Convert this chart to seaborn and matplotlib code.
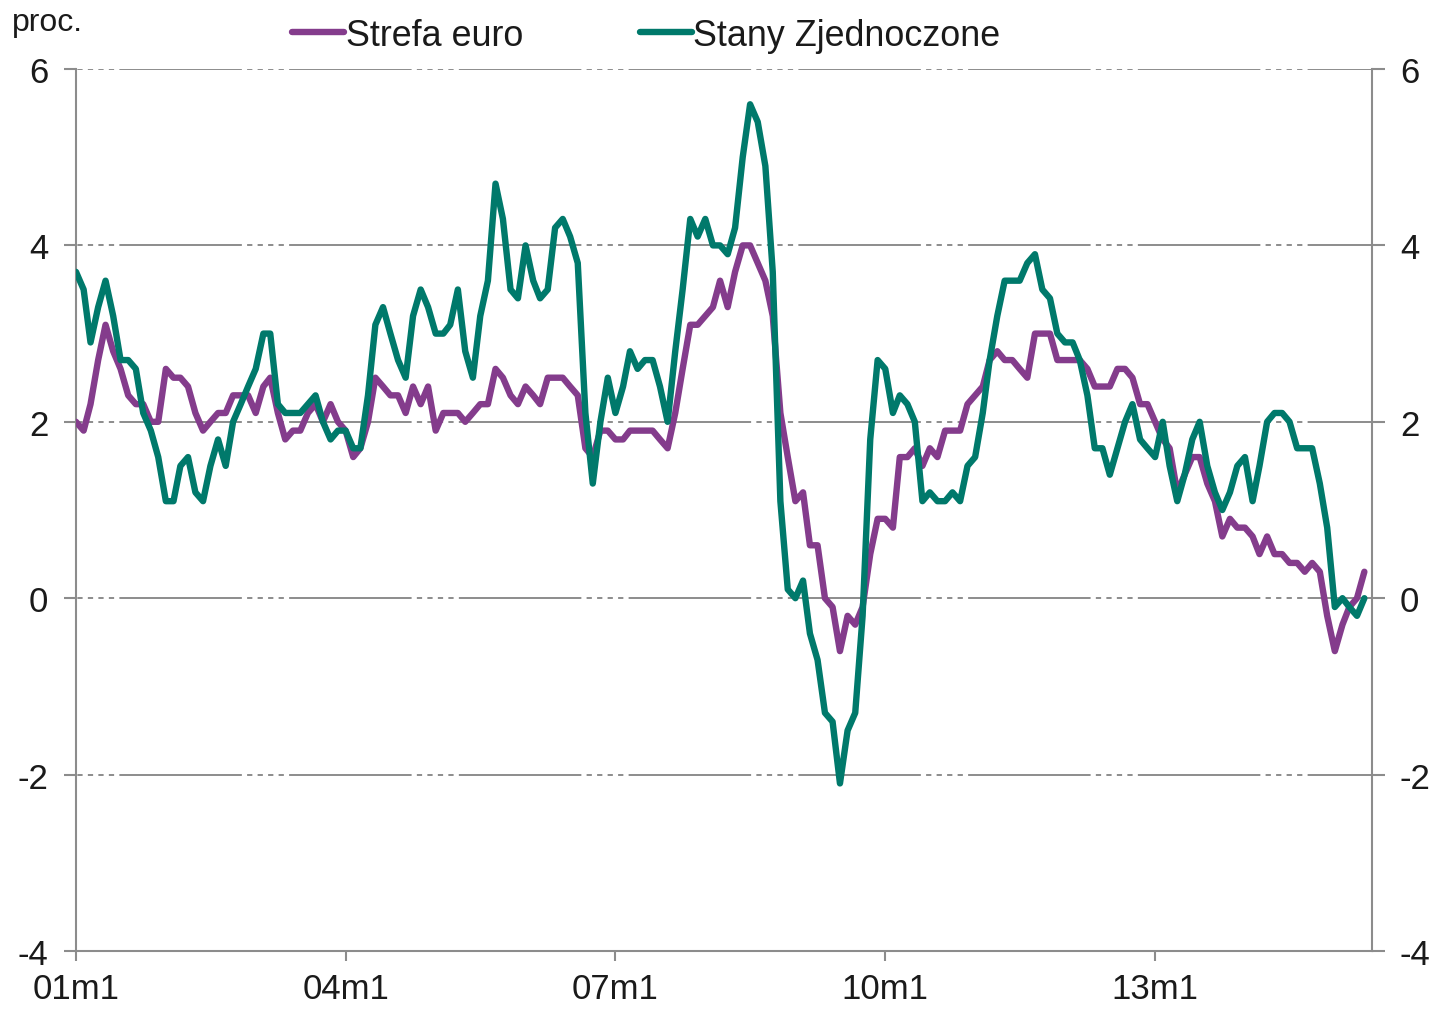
import numpy as np
import pandas as pd
import matplotlib
matplotlib.use('Agg')
import matplotlib.pyplot as plt
import seaborn as sns

# Inflacja r/r, dane miesięczne 2001m1 - 2015m5
strefa_euro = [
    2.0, 1.9, 2.2, 2.7, 3.1, 2.8, 2.6, 2.3, 2.2, 2.2, 2.0, 2.0,
    2.6, 2.5, 2.5, 2.4, 2.1, 1.9, 2.0, 2.1, 2.1, 2.3, 2.3, 2.3,
    2.1, 2.4, 2.5, 2.1, 1.8, 1.9, 1.9, 2.1, 2.2, 2.0, 2.2, 2.0,
    1.9, 1.6, 1.7, 2.0, 2.5, 2.4, 2.3, 2.3, 2.1, 2.4, 2.2, 2.4,
    1.9, 2.1, 2.1, 2.1, 2.0, 2.1, 2.2, 2.2, 2.6, 2.5, 2.3, 2.2,
    2.4, 2.3, 2.2, 2.5, 2.5, 2.5, 2.4, 2.3, 1.7, 1.6, 1.9, 1.9,
    1.8, 1.8, 1.9, 1.9, 1.9, 1.9, 1.8, 1.7, 2.1, 2.6, 3.1, 3.1,
    3.2, 3.3, 3.6, 3.3, 3.7, 4.0, 4.0, 3.8, 3.6, 3.2, 2.1, 1.6,
    1.1, 1.2, 0.6, 0.6, 0.0, -0.1, -0.6, -0.2, -0.3, -0.1, 0.5, 0.9,
    0.9, 0.8, 1.6, 1.6, 1.7, 1.5, 1.7, 1.6, 1.9, 1.9, 1.9, 2.2,
    2.3, 2.4, 2.7, 2.8, 2.7, 2.7, 2.6, 2.5, 3.0, 3.0, 3.0, 2.7,
    2.7, 2.7, 2.7, 2.6, 2.4, 2.4, 2.4, 2.6, 2.6, 2.5, 2.2, 2.2,
    2.0, 1.8, 1.7, 1.2, 1.4, 1.6, 1.6, 1.3, 1.1, 0.7, 0.9, 0.8,
    0.8, 0.7, 0.5, 0.7, 0.5, 0.5, 0.4, 0.4, 0.3, 0.4, 0.3, -0.2,
    -0.6, -0.3, -0.1, 0.0, 0.3,
]
stany_zjednoczone = [
    3.7, 3.5, 2.9, 3.3, 3.6, 3.2, 2.7, 2.7, 2.6, 2.1, 1.9, 1.6,
    1.1, 1.1, 1.5, 1.6, 1.2, 1.1, 1.5, 1.8, 1.5, 2.0, 2.2, 2.4,
    2.6, 3.0, 3.0, 2.2, 2.1, 2.1, 2.1, 2.2, 2.3, 2.0, 1.8, 1.9,
    1.9, 1.7, 1.7, 2.3, 3.1, 3.3, 3.0, 2.7, 2.5, 3.2, 3.5, 3.3,
    3.0, 3.0, 3.1, 3.5, 2.8, 2.5, 3.2, 3.6, 4.7, 4.3, 3.5, 3.4,
    4.0, 3.6, 3.4, 3.5, 4.2, 4.3, 4.1, 3.8, 2.1, 1.3, 2.0, 2.5,
    2.1, 2.4, 2.8, 2.6, 2.7, 2.7, 2.4, 2.0, 2.8, 3.5, 4.3, 4.1,
    4.3, 4.0, 4.0, 3.9, 4.2, 5.0, 5.6, 5.4, 4.9, 3.7, 1.1, 0.1,
    0.0, 0.2, -0.4, -0.7, -1.3, -1.4, -2.1, -1.5, -1.3, -0.2, 1.8, 2.7,
    2.6, 2.1, 2.3, 2.2, 2.0, 1.1, 1.2, 1.1, 1.1, 1.2, 1.1, 1.5,
    1.6, 2.1, 2.7, 3.2, 3.6, 3.6, 3.6, 3.8, 3.9, 3.5, 3.4, 3.0,
    2.9, 2.9, 2.7, 2.3, 1.7, 1.7, 1.4, 1.7, 2.0, 2.2, 1.8, 1.7,
    1.6, 2.0, 1.5, 1.1, 1.4, 1.8, 2.0, 1.5, 1.2, 1.0, 1.2, 1.5,
    1.6, 1.1, 1.5, 2.0, 2.1, 2.1, 2.0, 1.7, 1.7, 1.7, 1.3, 0.8,
    -0.1, 0.0, -0.1, -0.2, 0.0,
]
x_ticks = ['2001-01-01', '2004-01-01', '2007-01-01', '2010-01-01', '2013-01-01']
x_tick_labels = ['01m1', '04m1', '07m1', '10m1', '13m1']
y_ticks = [-4, -2, 0, 2, 4, 6]

dates = pd.date_range('2001-01-01', periods=len(strefa_euro), freq='MS')

sns.set_theme(style='white')
plt.rcParams['font.family'] = ['Liberation Sans', 'DejaVu Sans']

purple = '#843c8c'
teal = '#00796b'
gray = '#8c8c8c'
txt = '#1a1a1a'
fs = 25.8

fig = plt.figure(figsize=(14.39, 10.12), dpi=100)
ax = fig.add_axes([76 / 1439, 1 - 952 / 1012, (1372 - 76) / 1439, (952 - 70) / 1012])

# siatka: długa kreska + kropki
grid_style = (65, (63, 2.7, 2.7, 2.7, 2.7, 2.7, 2.7, 2.7, 2.7, 2.7))
for yv in y_ticks[1:]:
    ax.axhline(yv, color=gray, lw=1.4, linestyle=grid_style, zorder=1)

sns.lineplot(x=dates, y=strefa_euro, color=purple, linewidth=4.6, label='Strefa euro', ax=ax, zorder=3,
             solid_joinstyle='round', solid_capstyle='round')
sns.lineplot(x=dates, y=stany_zjednoczone, color=teal, linewidth=4.6, label='Stany Zjednoczone', ax=ax, zorder=4,
             solid_joinstyle='round', solid_capstyle='round')

ax.set_xlim(pd.Timestamp('2001-01-01'), pd.Timestamp('2015-06-01'))
ax.set_ylim(-4, 6)
ax.set_yticks(y_ticks)
ax.set_yticklabels([str(v) for v in y_ticks])
ax.set_xticks(pd.to_datetime(x_ticks))
ax.set_xticklabels(x_tick_labels)
ax.set_xlabel('')
ax.set_ylabel('')

for side in ['left', 'right', 'bottom']:
    ax.spines[side].set_visible(True)
    ax.spines[side].set_color(gray)
    ax.spines[side].set_linewidth(1.5)
ax.spines['top'].set_visible(False)

ax.tick_params(axis='y', which='major', left=True, right=True, labelleft=True, labelright=True,
               direction='out', length=9, width=1.5, color=gray, labelsize=25, labelcolor=txt, pad=11)
ax.tick_params(axis='x', which='major', bottom=True, direction='out', length=7, width=1.5,
               color=gray, labelsize=25, labelcolor=txt, pad=8)
ax.tick_params(axis='x', which='minor', bottom=False)

ax.legend(loc='center left', bbox_to_anchor=(292 / 1439, 1 - 36 / 1012), bbox_transform=fig.transFigure,
          ncol=2, frameon=False, fontsize=fs, handlelength=1.45, handletextpad=0.05,
          columnspacing=3.25, borderpad=0, borderaxespad=0, labelcolor=txt)

fig.text(12 / 1439, 1 - 23 / 1012, 'proc.', fontsize=23, color=txt, ha='left', va='center')

fig.savefig('out.png', dpi=100)
